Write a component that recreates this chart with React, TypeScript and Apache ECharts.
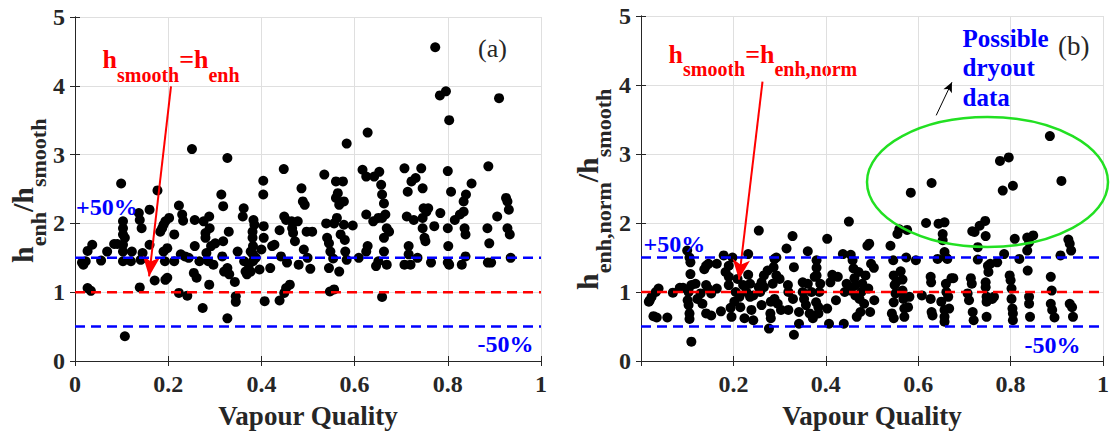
import React, { useEffect, useRef } from 'react';
import * as echarts from 'echarts';

// ---------- data ----------
const xMin = 0;
const xMax = 1;
const xStep = 0.2;
const yMin = 0;
const yMax = 5;
const yStep = 1;

const plusBand = 1.5;
const equalLine = 1;
const minusBand = 0.5;

// panel (a): h_enh / h_smooth vs vapour quality
const pointsA: [number, number][] = [
  [0.018,1.40],[0.023,1.45],[0.027,1.60],[0.037,1.69],[0.027,1.06],[0.034,1.02],[0.015,1.43],
  [0.056,1.46],[0.069,1.59],
  [0.084,1.70],[0.091,1.70],[0.099,2.58],[0.103,2.03],[0.103,1.93],[0.103,1.84],[0.103,1.69],[0.103,1.59],[0.103,1.45],[0.107,1.79],[0.107,0.36],[0.122,1.59],[0.120,1.45],
  [0.137,2.15],[0.139,2.05],[0.143,1.93],[0.145,1.57],[0.141,1.47],[0.139,1.07],
  [0.160,2.20],[0.160,1.69],[0.171,1.17],[0.177,2.48],[0.183,1.88],[0.187,1.93],[0.190,1.98],[0.194,2.03],[0.190,1.59],[0.193,1.45],[0.198,1.21],[0.194,1.18],[0.198,1.64],[0.202,2.08],
  [0.213,1.84],[0.213,1.45],[0.223,2.26],[0.227,1.55],[0.223,0.99],[0.230,2.13],[0.232,2.04],[0.236,1.52],[0.241,0.95],[0.244,1.50],
  [0.251,3.08],[0.257,2.05],[0.257,1.67],[0.255,1.28],[0.261,1.21],[0.267,1.45],[0.274,0.77],[0.276,2.03],[0.280,1.86],[0.280,1.79],[0.282,1.57],[0.286,1.45],[0.288,2.10],[0.288,1.11],[0.289,1.93],[0.292,1.67],[0.297,1.40],[0.301,1.71],
  [0.314,2.42],[0.318,2.25],[0.318,1.74],[0.316,1.52],[0.320,1.30],[0.327,2.95],[0.330,1.88],[0.327,1.35],[0.327,0.62],[0.331,1.26],[0.343,1.15],[0.345,0.94],[0.345,0.86],[0.349,1.59],
  [0.362,2.22],[0.360,2.10],[0.363,1.45],[0.366,1.30],[0.369,1.26],[0.373,1.40],[0.377,1.59],[0.381,1.88],[0.381,1.79],[0.382,1.67],[0.382,1.55],[0.382,1.45],[0.383,2.05],[0.385,1.98],[0.377,1.30],[0.388,1.50],[0.400,1.62],[0.396,1.33],[0.404,2.62],[0.404,2.42],[0.405,1.96],[0.405,1.79],[0.407,0.87],[0.419,1.35],[0.423,1.67],[0.428,1.69],
  [0.439,1.90],[0.442,1.52],[0.439,0.88],[0.448,2.79],[0.449,2.10],[0.453,2.05],[0.449,0.99],[0.453,1.06],[0.461,1.11],[0.455,1.43],[0.465,2.03],[0.466,1.93],[0.468,1.86],[0.472,1.74],[0.478,2.03],[0.480,1.40],[0.486,2.51],[0.489,2.32],[0.493,2.27],[0.491,1.62],[0.497,1.88],[0.499,1.50],[0.505,1.34],[0.509,1.88],
  [0.535,2.71],[0.539,2.00],[0.541,1.79],[0.545,1.71],[0.545,1.35],[0.547,1.01],[0.548,1.59],[0.554,1.49],[0.556,1.04],[0.556,2.00],[0.560,2.61],[0.560,2.37],[0.562,2.08],[0.564,2.44],[0.567,2.27],[0.567,1.30],[0.570,1.84],[0.575,2.61],[0.577,2.32],[0.577,1.98],[0.579,1.76],[0.580,1.59],[0.583,1.47],[0.583,3.16],[0.596,1.97],[0.609,1.50],
  [0.617,2.78],[0.625,2.68],[0.628,3.32],[0.625,2.13],[0.628,1.67],[0.625,1.59],[0.640,2.03],[0.642,2.68],[0.646,1.38],[0.651,1.45],[0.653,2.75],[0.657,2.56],[0.659,2.42],[0.659,2.08],[0.663,2.29],[0.666,2.13],[0.663,1.79],[0.663,1.59],[0.669,1.93],[0.669,1.40],[0.659,0.93],[0.674,1.88],[0.651,2.08],
  [0.707,2.80],[0.707,1.40],[0.712,2.10],[0.714,2.46],[0.716,1.67],[0.716,1.55],[0.720,1.40],[0.722,2.61],[0.727,2.05],[0.731,2.66],[0.735,1.50],[0.743,2.80],[0.746,2.51],[0.748,2.22],[0.746,2.08],[0.746,1.93],[0.750,1.79],[0.752,1.74],[0.754,2.17],[0.758,2.22],[0.771,1.96],[0.764,1.43],[0.773,4.56],[0.783,3.86],[0.784,2.15],[0.796,3.92],[0.800,2.76],[0.800,1.93],[0.801,1.67],[0.803,3.50],[0.800,1.43],[0.803,1.40],[0.807,2.46],[0.815,2.05],[0.826,2.13],[0.830,1.40],[0.834,2.32],[0.834,2.17],[0.836,1.93],[0.838,1.84],[0.838,1.52],[0.839,2.42],[0.851,2.58],[0.887,2.83],[0.885,1.93],[0.889,1.71],[0.886,1.43],[0.893,1.43],[0.906,2.10],[0.910,3.82],[0.925,2.37],[0.928,2.32],[0.931,2.20],[0.928,1.93],[0.933,1.84],[0.935,1.50]
];

// panel (b): h_enh,norm / h_smooth vs vapour quality
const pointsB: [number, number][] = [
  [0.019,0.88],[0.023,0.93],[0.017,0.86],[0.032,1.00],[0.038,1.05],[0.027,0.65],[0.034,0.63],[0.057,0.63],[0.069,0.99],[0.084,1.06],[0.091,1.06],
  [0.100,1.60],[0.105,1.50],[0.107,1.43],[0.107,1.26],[0.109,1.10],[0.103,1.00],[0.101,0.88],[0.103,0.81],[0.105,0.69],[0.105,0.61],[0.109,0.28],
  [0.118,1.12],[0.122,0.90],[0.129,0.98],[0.133,0.83],[0.137,1.33],[0.141,1.38],[0.146,1.41],[0.141,1.10],[0.141,0.69],[0.145,1.05],[0.152,0.98],[0.164,1.41],[0.152,0.66],[0.164,1.05],
  [0.173,0.72],[0.179,1.53],[0.183,1.29],[0.190,1.38],[0.190,1.22],[0.190,1.10],[0.194,0.77],[0.196,0.64],[0.198,1.50],[0.202,0.86],[0.205,1.00],[0.209,1.19],[0.213,0.93],[0.215,0.78],[0.221,1.10],[0.224,0.62],[0.228,1.00],[0.232,1.55],[0.232,1.25],[0.236,1.12],[0.236,0.93],[0.239,0.74],[0.243,0.59],[0.243,0.95],
  [0.255,1.89],[0.255,1.07],[0.258,1.00],[0.261,1.14],[0.261,0.81],[0.266,1.24],[0.266,1.07],[0.274,1.31],[0.277,0.47],[0.281,0.62],[0.280,0.69],[0.281,0.86],[0.285,1.12],[0.287,1.36],[0.289,1.48],[0.289,0.90],[0.293,1.50],[0.293,1.24],[0.296,0.83],[0.300,1.19],[0.303,0.74],
  [0.315,1.63],[0.318,1.10],[0.319,1.00],[0.319,0.74],[0.328,1.81],[0.331,1.36],[0.329,0.90],[0.331,0.38],[0.342,0.71],[0.342,0.54],[0.350,1.14],[0.350,1.00],[0.353,0.90],[0.357,0.81],[0.361,1.59],[0.361,1.12],[0.365,0.69],[0.369,1.00],[0.372,0.62],[0.376,1.22],[0.379,0.85],[0.380,1.46],[0.380,1.35],[0.380,1.24],[0.384,0.69],[0.384,0.78],[0.386,1.00],[0.388,1.12],
  [0.403,1.77],[0.403,0.76],[0.407,0.54],[0.410,1.14],[0.414,1.25],[0.422,0.88],[0.426,1.22],[0.437,1.55],[0.439,0.54],[0.441,1.00],[0.445,1.12],
  [0.450,2.02],[0.454,1.54],[0.458,1.46],[0.454,1.02],[0.460,1.34],[0.462,1.20],[0.464,1.10],[0.464,0.95],[0.467,0.64],[0.471,1.29],[0.473,0.90],[0.475,0.71],[0.477,1.00],[0.479,1.12],[0.483,0.83],[0.486,1.24],[0.490,1.67],[0.494,1.70],[0.492,1.05],[0.496,0.71],[0.498,1.41],[0.504,1.35],[0.505,0.88],
  [0.540,1.67],[0.546,1.46],[0.547,1.24],[0.549,1.10],[0.551,0.98],[0.547,0.85],[0.543,0.69],[0.547,0.62],[0.553,1.15],[0.555,1.84],[0.559,1.91],[0.562,1.30],[0.566,1.18],[0.566,1.02],[0.568,0.90],[0.570,0.76],[0.570,0.64],[0.574,1.50],[0.576,1.90],[0.578,0.78],[0.584,2.44],[0.581,0.93],[0.595,1.46],
  [0.608,0.95],[0.617,2.00],[0.627,1.22],[0.628,1.14],[0.629,2.58],[0.627,0.90],[0.629,0.71],[0.631,0.66],[0.642,1.48],[0.644,1.99],[0.650,0.86],[0.653,1.84],[0.653,1.75],[0.657,2.01],[0.657,1.58],[0.660,1.50],[0.660,1.12],[0.661,1.00],[0.657,0.74],[0.657,0.64],[0.657,0.57],[0.663,1.48],[0.665,0.93],[0.667,0.76],[0.672,1.20],[0.676,1.20],
  [0.707,0.98],[0.710,0.88],[0.714,1.20],[0.716,1.12],[0.717,1.88],[0.722,1.87],[0.718,0.71],[0.720,0.59],[0.729,1.65],[0.729,1.47],[0.733,1.96],[0.745,2.03],[0.746,1.81],[0.746,1.14],[0.746,1.07],[0.748,0.93],[0.748,0.86],[0.748,0.64],[0.752,1.29],[0.751,1.38],[0.756,1.41],[0.760,0.90],[0.764,0.93],[0.771,1.43],
  [0.783,2.47],[0.777,2.90],[0.786,1.55],[0.796,2.95],[0.805,2.54],[0.798,1.24],[0.800,1.17],[0.802,1.05],[0.802,0.90],[0.804,0.76],[0.805,0.69],[0.805,0.59],[0.809,1.77],[0.819,1.48],[0.836,1.79],[0.840,1.72],[0.836,1.60],[0.837,1.31],[0.840,0.93],[0.840,0.83],[0.842,0.64],[0.849,1.82],
  [0.885,3.26],[0.887,1.22],[0.889,1.02],[0.887,0.83],[0.890,0.74],[0.895,0.63],[0.908,1.53],[0.910,2.61],[0.925,1.76],[0.928,1.70],[0.931,1.60],[0.928,0.83],[0.933,0.78],[0.935,0.64]
];

// annotation arrows (data coordinates: [tail, head])
const arrowA: [number, number][] = [[0.206, 3.99], [0.159, 1.23]];
const arrowB: [number, number][] = [[0.263, 4.05], [0.212, 1.18]];
const arrowDryout: [number, number][] = [[0.639, 3.56], [0.673, 4.04]];

// ---------- helpers ----------
const SERIF = 'Liberation Serif, serif';
const AXIS_COLOR = '#262626';
const GRID_COLOR = '#dfdfdf';
const RED = '#ff0000';
const BLUE = '#0000ff';
const GREEN = '#22e022';

let measureCtx: CanvasRenderingContext2D | null = null;
function textWidth(text: string, font: string): number {
  if (!measureCtx) measureCtx = document.createElement('canvas').getContext('2d');
  if (!measureCtx) return text.length * 10;
  measureCtx.font = font;
  return measureCtx.measureText(text).width;
}

type Tok = { t: string; sub: boolean };
// builds text tokens along a baseline; main/sub font sizes; sub lowered by subShift
function tokenRow(toks: Tok[], mainFs: number, subFs: number, subShift: number, color: string, weight: string) {
  let x = 0;
  return toks.map((k) => {
    const fs = k.sub ? subFs : mainFs;
    const font = `${weight} ${fs}px ${SERIF}`;
    const el = {
      type: 'text',
      x,
      y: (k.sub ? subShift : 0) - 0.34 * fs,
      style: {
        text: k.t,
        font,
        fill: color,
        textAlign: 'left',
        textVerticalAlign: 'middle',
        align: 'left',
        verticalAlign: 'middle',
      },
    };
    x += textWidth(k.t, font);
    return el;
  });
}

function plainText(text: string, x: number, y: number, font: string, color: string) {
  return {
    type: 'text',
    x,
    y,
    z: 100,
    style: { text, font, fill: color, textAlign: 'left', textVerticalAlign: 'middle', align: 'left', verticalAlign: 'middle' },
  };
}

function xAxes(gridIndex: number, hideZero: boolean) {
  return [
    {
      type: 'value',
      gridIndex,
      position: 'bottom',
      min: xMin,
      max: xMax,
      interval: xStep,
      name: 'Vapour Quality',
      nameLocation: 'middle',
      nameGap: 41,
      nameTextStyle: { fontFamily: SERIF, fontWeight: 'bold', fontSize: 27, color: AXIS_COLOR },
      axisLine: { show: true, lineStyle: { color: AXIS_COLOR, width: 1 } },
      axisTick: { show: true, inside: true, length: 5, lineStyle: { color: AXIS_COLOR } },
      axisLabel: {
        margin: 11,
        fontFamily: SERIF,
        fontWeight: 'bold',
        fontSize: 24,
        color: AXIS_COLOR,
        formatter: (v: number) => (hideZero && v === 0 ? '' : String(Math.round(v * 10) / 10)),
      },
      splitLine: { show: true, lineStyle: { color: GRID_COLOR, width: 1 } },
    },
    {
      type: 'value',
      gridIndex,
      position: 'top',
      min: xMin,
      max: xMax,
      interval: xStep,
      axisLine: { show: true, lineStyle: { color: AXIS_COLOR, width: 1 } },
      axisTick: { show: true, inside: true, length: 5, lineStyle: { color: AXIS_COLOR } },
      axisLabel: { show: false },
      splitLine: { show: false },
    },
  ];
}

function yAxes(gridIndex: number) {
  return [
    {
      type: 'value',
      gridIndex,
      position: 'left',
      min: yMin,
      max: yMax,
      interval: yStep,
      axisLine: { show: true, lineStyle: { color: AXIS_COLOR, width: 1 } },
      axisTick: { show: true, inside: true, length: 5, lineStyle: { color: AXIS_COLOR } },
      axisLabel: { margin: 10, fontFamily: SERIF, fontWeight: 'bold', fontSize: 24, color: AXIS_COLOR },
      splitLine: { show: true, lineStyle: { color: GRID_COLOR, width: 1 } },
    },
    {
      type: 'value',
      gridIndex,
      position: 'right',
      min: yMin,
      max: yMax,
      interval: yStep,
      axisLine: { show: true, lineStyle: { color: AXIS_COLOR, width: 1 } },
      axisTick: { show: true, inside: true, length: 5, lineStyle: { color: AXIS_COLOR } },
      axisLabel: { show: false },
      splitLine: { show: false },
    },
  ];
}

function refLine(xi: number, yi: number, y: number, color: string, markLine?: any) {
  return {
    type: 'line',
    xAxisIndex: xi,
    yAxisIndex: yi,
    data: [[xMin, y], [xMax, y]],
    showSymbol: false,
    symbol: 'none',
    silent: true,
    z: 5,
    lineStyle: { color, width: 2.5, type: [10, 6] },
    markLine,
  };
}

function arrowMark(arrow: [number, number][], color: string, width: number, size: number[]) {
  return {
    silent: true,
    symbol: ['none', 'arrow'],
    symbolSize: size,
    label: { show: false },
    lineStyle: { color, width, type: 'solid' },
    emphasis: { disabled: true },
    data: [[{ coord: arrow[0] }, { coord: arrow[1] }]],
  };
}

export default function App() {
  const ref = useRef<HTMLDivElement>(null);

  useEffect(() => {
    if (!ref.current) return;
    const chart = echarts.init(ref.current, undefined, { renderer: 'svg' });

    const graphic: any[] = [
      // y-axis titles (rotated)
      {
        type: 'group',
        x: 33,
        y: 263,
        rotation: Math.PI / 2,
        children: tokenRow(
          [{ t: 'h', sub: false }, { t: 'enh', sub: true }, { t: '/h', sub: false }, { t: 'smooth', sub: true }],
          30, 22, 13, AXIS_COLOR, 'bold'
        ),
      },
      {
        type: 'group',
        x: 598,
        y: 290,
        rotation: Math.PI / 2,
        children: tokenRow(
          [{ t: 'h', sub: false }, { t: 'enh,norm', sub: true }, { t: '/h', sub: false }, { t: 'smooth', sub: true }],
          30, 22, 13, AXIS_COLOR, 'bold'
        ),
      },
      // red annotations
      {
        type: 'group',
        x: 102.5,
        y: 68,
        z: 100,
        children: tokenRow(
          [{ t: 'h', sub: false }, { t: 'smooth', sub: true }, { t: '=h', sub: false }, { t: 'enh', sub: true }],
          26, 20, 14, RED, 'bold'
        ),
      },
      {
        type: 'group',
        x: 668.5,
        y: 63,
        z: 100,
        children: tokenRow(
          [{ t: 'h', sub: false }, { t: 'smooth', sub: true }, { t: '=h', sub: false }, { t: 'enh,norm', sub: true }],
          26, 20, 13, RED, 'bold'
        ),
      },
      plainText('(a)', 478, 48, `normal 26px ${SERIF}`, AXIS_COLOR),
      plainText('(b)', 1058, 46, `normal 27px ${SERIF}`, AXIS_COLOR),
      plainText('+50%', 76, 207, `bold 24px ${SERIF}`, BLUE),
      plainText('-50%', 477.5, 344, `bold 24px ${SERIF}`, BLUE),
      plainText('+50%', 643.5, 244, `bold 24px ${SERIF}`, BLUE),
      plainText('-50%', 1024.5, 345, `bold 24px ${SERIF}`, BLUE),
      plainText('Possible', 962.5, 38.5, `bold 25px ${SERIF}`, BLUE),
      plainText('dryout', 962.5, 67.5, `bold 25px ${SERIF}`, BLUE),
      plainText('data', 962.5, 97.5, `bold 25px ${SERIF}`, BLUE),
      {
        type: 'ellipse',
        z: 100,
        shape: { cx: 987.5, cy: 182, rx: 120.5, ry: 65 },
        style: { fill: 'none', stroke: GREEN, lineWidth: 2.5 },
      },
    ];

    chart.setOption({
      animation: false,
      backgroundColor: '#ffffff',
      grid: [
        { left: 75, top: 17, width: 466, height: 346, show: true, borderColor: AXIS_COLOR, borderWidth: 0, backgroundColor: 'transparent' },
        { left: 641, top: 16, width: 467, height: 346, show: true, borderColor: AXIS_COLOR, borderWidth: 0, backgroundColor: 'transparent' },
      ],
      xAxis: [...xAxes(0, false), ...xAxes(1, true)],
      yAxis: [...yAxes(0), ...yAxes(1)],
      series: [
        { type: 'scatter', xAxisIndex: 0, yAxisIndex: 0, data: pointsA, symbolSize: 10, itemStyle: { color: '#000000', opacity: 1 }, z: 2, silent: true },
        { type: 'scatter', xAxisIndex: 2, yAxisIndex: 2, data: pointsB, symbolSize: 10, itemStyle: { color: '#000000', opacity: 1 }, z: 2, silent: true },
        refLine(0, 0, plusBand, BLUE),
        refLine(0, 0, minusBand, BLUE),
        refLine(0, 0, equalLine, RED, arrowMark(arrowA, RED, 2, [13, 20])),
        refLine(2, 2, plusBand, BLUE, arrowMark(arrowDryout, '#000000', 1, [7, 10])),
        refLine(2, 2, minusBand, BLUE),
        refLine(2, 2, equalLine, RED, arrowMark(arrowB, RED, 2, [13, 20])),
      ],
      graphic,
    });

    return () => chart.dispose();
  }, []);

  return (
    <div
      ref={ref}
      style={{ position: 'absolute', left: 0, top: 0, width: 1112, height: 434, background: '#ffffff' }}
    />
  );
}
